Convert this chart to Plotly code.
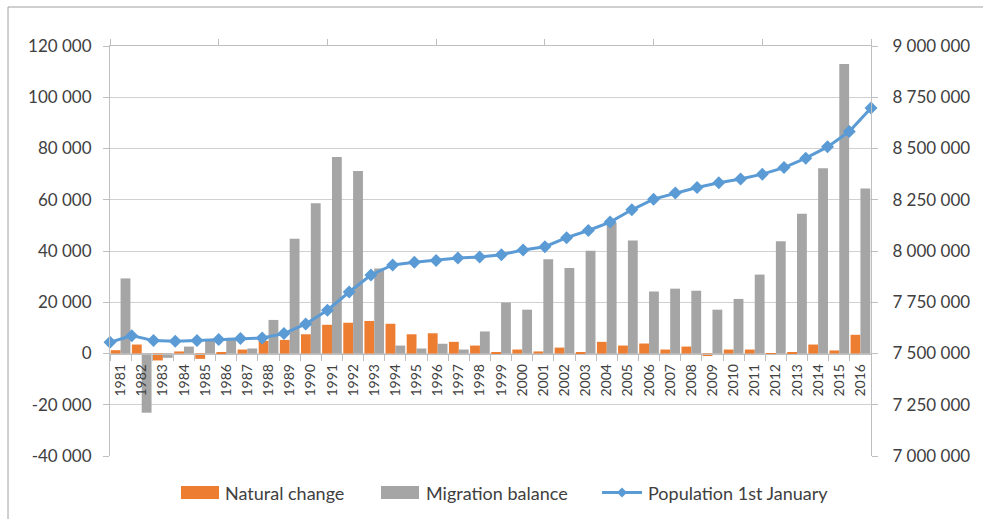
import plotly.graph_objects as go

# Population change, 1981-2016
years = list(range(1981, 2017))

natural_change = [
    1300, 3500, -2700, 800, -2100, 200, 1550, 4900, 5300, 7500,
    11200, 12000, 12700, 11600, 7500, 7900, 4550, 3100, 200, 1550,
    800, 2300, 200, 4550, 3100, 3900, 1550, 2700, -1000, 1550,
    1550, -400, 200, 3500, 1200, 7300,
]

migration_balance = [
    29300, -23100, -1700, 2700, 5500, 6100, 1950, 13100, 44800, 58600,
    76700, 71200, 33200, 3100, 1950, 3800, 1550, 8600, 19900, 17100,
    36800, 33400, 40100, 50900, 44100, 24200, 25300, 24500, 17100, 21300,
    30800, 43800, 54500, 72300, 113000, 64400,
]

population = [
    7555000, 7587000, 7563000, 7560000, 7563000, 7568000, 7573000, 7576000,
    7597000, 7644000, 7711000, 7800000, 7883000, 7932000, 7945000, 7954000,
    7966000, 7971000, 7982000, 8005000, 8021000, 8065000, 8100000, 8141000,
    8201000, 8253000, 8283000, 8310000, 8333000, 8351000, 8375000, 8407000,
    8453000, 8508000, 8583000, 8697000,
]

left_ticks = list(range(-40000, 120001, 20000))
right_ticks = list(range(7000000, 9000001, 250000))


def spaced(v):
    return f"{v:,}".replace(",", " ")


ORANGE = "#ED7D31"
GREY = "#A5A5A5"
BLUE = "#5B9BD5"
AXIS = "#BFBFBF"
GRID = "#D0D0D0"
TEXT = "#404040"
FONT = "Lato"

W, H = 983, 519
L, R, T, B = 110, 112, 46, 63
PW, PH = W - L - R, H - T - B

fig = go.Figure()

fig.add_trace(go.Bar(
    x=[str(y) for y in years], y=natural_change, name="Natural change",
    marker=dict(color=ORANGE, line=dict(width=0)),
))
fig.add_trace(go.Bar(
    x=[str(y) for y in years], y=migration_balance, name="Migration balance",
    marker=dict(color=GREY, line=dict(width=0)),
))
fig.add_trace(go.Scatter(
    x=years, y=population, name="Population 1st January",
    xaxis="x2", yaxis="y2", mode="lines+markers",
    line=dict(color=BLUE, width=3),
    marker=dict(symbol="diamond", size=10, color=BLUE),
    cliponaxis=False,
))

tickfont = dict(family=FONT, size=17, color=TEXT)

fig.update_layout(
    width=W, height=H, autosize=False,
    margin=dict(l=L, r=R, t=T, b=B, pad=0),
    paper_bgcolor="white", plot_bgcolor="white",
    showlegend=False,
    barmode="group", bargap=0.07, bargroupgap=0,
    xaxis=dict(
        type="category", anchor="free", position=0.25,
        range=[-0.5, 35.5], tickson="boundaries",
        ticks="outside", ticklen=6, tickcolor=AXIS,
        tickangle=-90, tickfont=dict(family=FONT, size=14, color=TEXT),
        ticklabelstandoff=4,
        showline=True, linecolor=AXIS, linewidth=1,
        showgrid=False, zeroline=False, fixedrange=True,
    ),
    xaxis2=dict(
        overlaying="x", side="top", anchor="y2",
        range=[years[0], years[-1]], tick0=years[0], dtick=5,
        ticks="outside", ticklen=6, tickcolor=AXIS,
        showticklabels=False, showline=True, linecolor=AXIS,
        showgrid=False, zeroline=False,
    ),
    yaxis=dict(
        range=[left_ticks[0], left_ticks[-1]],
        tickmode="array", tickvals=left_ticks,
        ticktext=[spaced(v) for v in left_ticks],
        ticks="outside", ticklen=6, tickcolor=AXIS,
        tickfont=tickfont, ticklabelstandoff=8,
        showline=True, linecolor=AXIS,
        showgrid=True, gridcolor=GRID, gridwidth=1, zeroline=False,
    ),
    yaxis2=dict(
        overlaying="y", side="right",
        range=[right_ticks[0], right_ticks[-1]],
        tickmode="array", tickvals=right_ticks,
        ticktext=[spaced(v) for v in right_ticks],
        ticks="outside", ticklen=6, tickcolor=AXIS,
        tickfont=tickfont, ticklabelstandoff=11,
        showline=True, linecolor=AXIS,
        showgrid=False, zeroline=False,
    ),
)


def px(x):
    return (x - L) / PW


def py(y):
    return (T + PH - y) / PH


shapes = []
# chart frame
shapes.append(dict(type="line", xref="paper", yref="paper",
                   x0=px(8), x1=px(W + 5), y0=py(7), y1=py(7),
                   line=dict(color="#A0A0A0", width=1)))
shapes.append(dict(type="line", xref="paper", yref="paper",
                   x0=px(8), x1=px(8), y0=py(7), y1=py(H + 5),
                   line=dict(color="#A0A0A0", width=1)))

# legend
ly = 492.5
shapes.append(dict(type="rect", xref="paper", yref="paper",
                   x0=px(181), x1=px(219), y0=py(ly - 6.5), y1=py(ly + 6.5),
                   fillcolor=ORANGE, line=dict(width=0)))
shapes.append(dict(type="rect", xref="paper", yref="paper",
                   x0=px(381), x1=px(419), y0=py(ly - 6.5), y1=py(ly + 6.5),
                   fillcolor=GREY, line=dict(width=0)))
shapes.append(dict(type="line", xref="paper", yref="paper",
                   x0=px(602), x1=px(642), y0=py(ly), y1=py(ly),
                   line=dict(color=BLUE, width=3)))
cx, d = 622, 5
shapes.append(dict(
    type="path", xref="paper", yref="paper",
    path=(f"M {px(cx - d)} {py(ly)} L {px(cx)} {py(ly - d)} "
          f"L {px(cx + d)} {py(ly)} L {px(cx)} {py(ly + d)} Z"),
    fillcolor=BLUE, line=dict(width=0),
))
fig.update_layout(shapes=shapes)

legend_labels = [(223, "Natural change"), (424, "Migration balance"),
                 (646, "Population 1st January")]
for x0, label in legend_labels:
    fig.add_annotation(
        text=label, xref="paper", yref="paper", x=px(x0), y=py(ly),
        xanchor="left", yanchor="middle", showarrow=False,
        font=dict(family=FONT, size=18, color=TEXT),
    )

fig.write_html("out.html")
